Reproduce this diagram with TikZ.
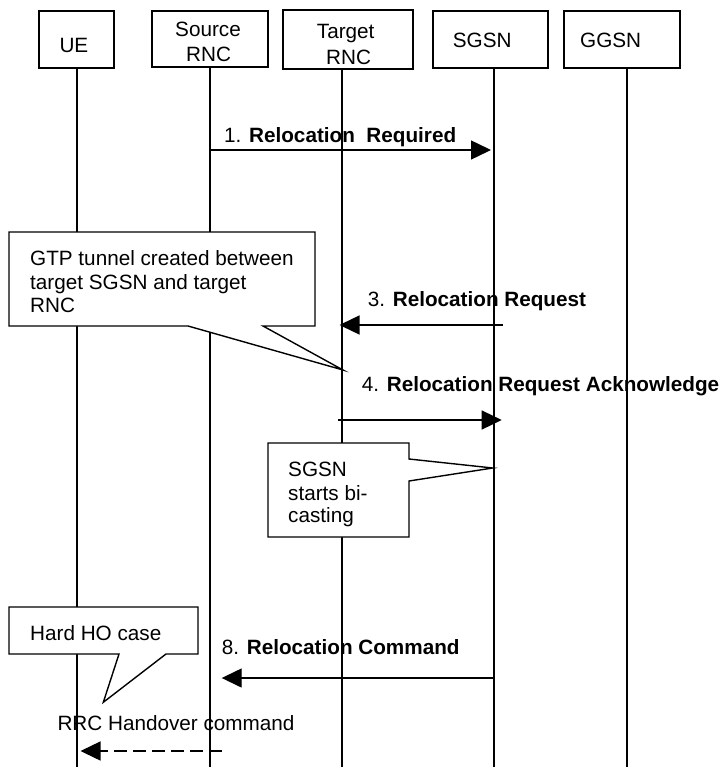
\documentclass[tikz,border=0pt]{standalone}
\usepackage{fontspec}
\setmainfont{Liberation Sans}
\usetikzlibrary{arrows.meta}
\tikzset{
  lbl/.style={font=\fontsize{20.7}{24}\selectfont, inner sep=0pt, anchor=base west},
  actorbox/.style={draw, line width=1.6pt, fill=white, inner sep=0pt},
  lifeline/.style={line width=1.6pt},
  msg/.style={line width=1.4pt, -{Triangle[length=20pt,width=19pt]}},
  dmsg/.style={line width=1.4pt, dash pattern=on 12.5pt off 6.5pt, -{Triangle[length=20pt,width=19pt]}},
  callout/.style={draw, line width=1.4pt, fill=white, line join=miter},
}
\begin{document}
\begin{tikzpicture}[x=1pt,y=-1pt]
\useasboundingbox (0,0) rectangle (723,767);
% actor boxes
\node[actorbox, minimum width=75pt, minimum height=57pt] (ue) at (76.5,39.5) {};
\node[actorbox, minimum width=116pt, minimum height=56pt] (src) at (210,39) {};
\node[actorbox, minimum width=130pt, minimum height=59pt] (tgt) at (348,39.5) {};
\node[actorbox, minimum width=115pt, minimum height=57pt] (sgsn) at (490.5,39.5) {};
\node[actorbox, minimum width=116pt, minimum height=57pt] (ggsn) at (622,39.5) {};
% box labels
\node[lbl] (tue) at (59.3,52.7) {UE};
\node[lbl] (tsrc1) at (175,36.7) {Source};
\node[lbl] (tsrc2) at (186,61.5) {RNC};
\node[lbl] (ttgt1) at (316.7,39) {Target};
\node[lbl] (ttgt2) at (326,65) {RNC};
\node[lbl] (tsgsn) at (452.7,47.3) {SGSN};
\node[lbl] (tggsn) at (580,48) {GGSN};
% lifeline bottoms
\coordinate (bue) at (77,767);
\coordinate (bsrc) at (210,767);
\coordinate (btgt) at (342,767);
\coordinate (bsgsn) at (494,767);
\coordinate (bggsn) at (627,767);
\draw[lifeline] (bue |- ue.south) -- (bue);
\draw[lifeline] (bsrc |- src.south) -- (bsrc);
\draw[lifeline] (btgt |- tgt.south) -- (btgt);
\draw[lifeline] (bsgsn |- sgsn.south) -- (bsgsn);
\draw[lifeline] (bggsn |- ggsn.south) -- (bggsn);
% message 1
\coordinate (m1a) at (210,150);
\coordinate (m1b) at (491,150);
\draw[msg] (m1a) -- (m1b);
\node[lbl] (t1) at (224,143) {1. \textbf{Relocation\ \ Required}};
% callout GTP
\draw[callout] (9,232) -- (315,232) -- (315,326) -- (263,326) -- (343,370) -- (188,326) -- (9,326) -- cycle;
\node[lbl] (gtp1) at (30,265) {GTP tunnel created between};
\node[lbl] (gtp2) at (30,289.3) {target SGSN and target};
\node[lbl] (gtp3) at (30,312.7) {RNC};
% message 3
\coordinate (m3a) at (503,325);
\coordinate (m3b) at (339.5,325);
\draw[msg] (m3a) -- (m3b);
\node[lbl] (t3) at (367.7,306.7) {3. \textbf{Relocation Request}};
% message 4
\node[lbl] (t4) at (361.7,391.7) {4. \textbf{Relocation Request Acknowledge}};
\coordinate (m4a) at (338,420);
\coordinate (m4b) at (501.7,420);
\draw[msg] (m4a) -- (m4b);
% callout SGSN bicasting
\draw[callout] (268,443) -- (409,443) -- (409,459) -- (492.7,468) -- (409,481) -- (409,537) -- (268,537) -- cycle;
\begin{scope}
\clip (269,444) rectangle (408,526.5);
\node[lbl] (bc1) at (288,476) {SGSN};
\node[lbl] (bc2) at (288,500) {starts bi-};
\node[lbl] (bc3) at (288,522.7) {casting};
\end{scope}
% callout Hard HO
\draw[callout] (9,607) -- (198,607) -- (198,654) -- (166,654) -- (103.3,702.3) -- (119,654) -- (9,654) -- cycle;
\node[lbl] (hho) at (30,640.7) {Hard HO case};
% message 8
\node[lbl] (t8) at (221.7,654) {8. \textbf{Relocation Command}};
\coordinate (m8a) at (494,678);
\coordinate (m8b) at (221.7,678);
\draw[msg] (m8a) -- (m8b);
% RRC handover
\node[lbl] (rrc) at (57.3,730) {RRC Handover command};
\coordinate (mra) at (221.7,751);
\coordinate (mrb) at (80.5,751);
\draw[dmsg] (mra) -- (mrb);
\end{tikzpicture}
\end{document}
